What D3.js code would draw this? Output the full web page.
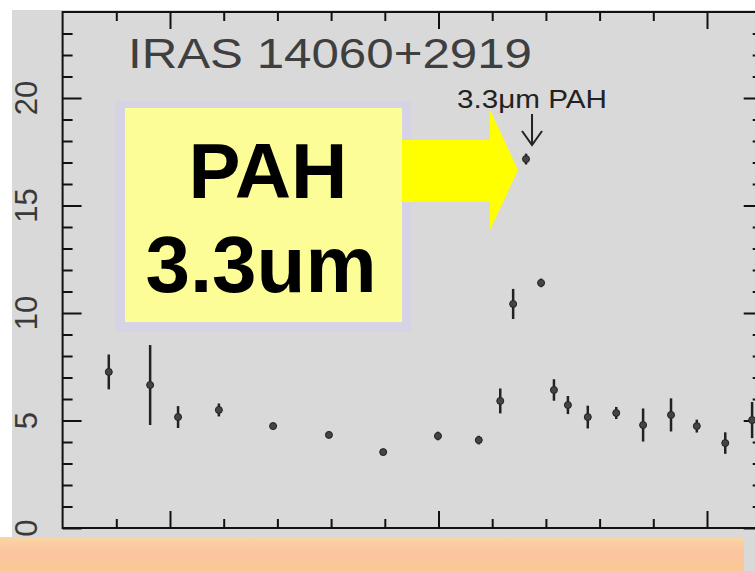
<!DOCTYPE html>
<html>
<head>
<meta charset="utf-8">
<script src="https://cdn.jsdelivr.net/npm/d3@7"></script>
<style>
  body { margin: 0; background: #fff; }
  svg { display: block; font-family: "Liberation Sans", Arial, sans-serif; }
  .tick text { display: none; }
  .domain { display: none; }
</style>
</head>
<body>
<svg></svg>
<script>
var wavelength = [2.886, 2.963, 3.015, 3.091, 3.192, 3.296, 3.397, 3.499, 3.575, 3.615, 3.639,
                  3.663, 3.691, 3.715, 3.741, 3.778, 3.831, 3.881, 3.933, 3.981, 4.034, 4.084];
var flux = [7.26, 6.65, 5.16, 5.49, 4.74, 4.33, 3.53, 4.28, 4.09, 5.91, 10.42,
            17.16, 11.40, 6.42, 5.72, 5.16, 5.35, 4.79, 5.26, 4.74, 3.95, 5.02];
var fluxErr = [0.81, 1.86, 0.51, 0.30, 0.15, 0.12, 0.12, 0.20, 0.20, 0.58, 0.70,
               0.25, 0.20, 0.50, 0.42, 0.53, 0.28, 0.77, 0.77, 0.30, 0.50, 0.84];

var yTickLabels = [0, 5, 10, 15, 20];
var xMajorTicks = [3.0, 3.5, 4.0];
var xMinorTicks = [2.9, 3.1, 3.2, 3.3, 3.4, 3.6, 3.7, 3.8, 3.9];
var title = "IRAS  14060+2919";
var lineLabel = "3.3\u03bcm PAH";
var lineWave = 3.663;
var boxText = ["PAH", "3.3um"];

var config = {
  w: 755,
  h: 571,
  left: 62.6,
  right: 760.7,
  top: 12,
  bottom: 528
};

var svg = d3.select("svg")
  .attr("width", config.w)
  .attr("height", config.h);

// backgrounds
svg.append("rect")
  .attr("x", 12).attr("y", 10)
  .attr("width", config.w - 12).attr("height", config.h - 10)
  .attr("fill", "#d9d9d9");

var x = d3.scaleLinear().domain([2.8, 4.1]).range([config.left, config.right]);
var y = d3.scaleLinear().domain([0, 24]).range([config.bottom, config.top]);

var g = svg.append("g").attr("id", "plot");

// axes: ticks point inwards on all four sides
function drawTicks(axis, tx, ty) {
  g.append("g")
    .attr("transform", "translate(" + tx + "," + ty + ")")
    .call(axis)
    .selectAll("line")
    .attr("stroke", "#111")
    .attr("stroke-width", 2);
}

drawTicks(d3.axisBottom(x).tickValues(xMajorTicks).tickSize(-17).tickSizeOuter(0), 0, config.bottom);
drawTicks(d3.axisBottom(x).tickValues(xMinorTicks).tickSize(-9).tickSizeOuter(0), 0, config.bottom);
drawTicks(d3.axisTop(x).tickValues(xMajorTicks).tickSize(-17).tickSizeOuter(0), 0, config.top);
drawTicks(d3.axisTop(x).tickValues(xMinorTicks).tickSize(-9).tickSizeOuter(0), 0, config.top);

var yMinor = d3.range(1, 24).filter(function(d) { return d % 5 != 0; });
drawTicks(d3.axisLeft(y).tickValues(yTickLabels).tickSize(-19).tickSizeOuter(0), config.left, 0);
drawTicks(d3.axisLeft(y).tickValues(yMinor).tickSize(-10).tickSizeOuter(0), config.left, 0);
drawTicks(d3.axisRight(y).tickValues(yTickLabels).tickSize(-17).tickSizeOuter(0), config.right, 0);
drawTicks(d3.axisRight(y).tickValues(yMinor).tickSize(-8).tickSizeOuter(0), config.right, 0);

// frame
g.append("rect")
  .attr("x", config.left).attr("y", config.top)
  .attr("width", config.right - config.left)
  .attr("height", config.bottom - config.top)
  .attr("fill", "none")
  .attr("stroke", "#111")
  .attr("stroke-width", 2);

// rotated y labels
svg.selectAll("text.ylab")
  .data(yTickLabels)
  .enter()
  .append("text")
    .attr("class", "ylab")
    .attr("transform", function(d) { return "translate(26," + y(d) + ") rotate(-90)"; })
    .attr("text-anchor", "middle")
    .attr("dominant-baseline", "central")
    .attr("font-size", 31)
    .attr("fill", "#3a3a3a")
    .text(function(d) { return d; });

// title
svg.append("text")
  .attr("x", 128).attr("y", 68)
  .attr("font-size", 43)
  .attr("fill", "#3f3f3f")
  .attr("textLength", 404)
  .attr("lengthAdjust", "spacingAndGlyphs")
  .text(title);

// data points with error bars
var pts = wavelength.map(function(d, i) {
  return {w: d, f: flux[i], e: fluxErr[i]};
});

var data = g.append("g").attr("id", "data");
data.selectAll("line.err")
  .data(pts)
  .enter()
  .append("line")
    .attr("class", "err")
    .attr("x1", function(d) { return x(d.w); })
    .attr("x2", function(d) { return x(d.w); })
    .attr("y1", function(d) { return y(d.f - d.e); })
    .attr("y2", function(d) { return y(d.f + d.e); })
    .attr("stroke", "#222")
    .attr("stroke-width", 2.5);

data.selectAll("circle")
  .data(pts)
  .enter()
  .append("circle")
    .attr("cx", function(d) { return x(d.w); })
    .attr("cy", function(d) { return y(d.f); })
    .attr("r", 3.5)
    .attr("fill", "#444")
    .attr("stroke", "#222")
    .attr("stroke-width", 1);

// line annotation
var lx = x(lineWave) + 6;
svg.append("text")
  .attr("x", lx).attr("y", 108)
  .attr("text-anchor", "middle")
  .attr("font-size", 26)
  .attr("fill", "#222")
  .attr("textLength", 150)
  .attr("lengthAdjust", "spacingAndGlyphs")
  .text(lineLabel);

svg.append("path")
  .attr("d", "M" + lx + ",114 L" + lx + ",145 M" + (lx - 10) + ",131 L" + lx + ",145 L" + (lx + 10) + ",131")
  .attr("fill", "none")
  .attr("stroke", "#222")
  .attr("stroke-width", 2);

// highlight box
svg.append("rect")
  .attr("x", 115).attr("y", 101)
  .attr("width", 296).attr("height", 231)
  .attr("fill", "#d5d3e4");
svg.append("rect")
  .attr("x", 125).attr("y", 108)
  .attr("width", 277).attr("height", 214)
  .attr("fill", "#fdfd98");

svg.append("text")
  .attr("x", 268).attr("y", 198)
  .attr("text-anchor", "middle")
  .attr("font-size", 78)
  .attr("font-weight", "bold")
  .attr("fill", "#000")
  .text(boxText[0]);
svg.append("text")
  .attr("x", 261).attr("y", 292)
  .attr("text-anchor", "middle")
  .attr("font-size", 80)
  .attr("font-weight", "bold")
  .attr("fill", "#000")
  .text(boxText[1]);

// yellow block arrow
svg.append("path")
  .attr("d", "M402,140 L490,140 L490,110 L518,170 L490,230 L490,202 L402,202 Z")
  .attr("fill", "#ffff00");

// orange band at the bottom
var grad = svg.append("defs").append("linearGradient")
  .attr("id", "band").attr("x1", 0).attr("y1", 0).attr("x2", 0).attr("y2", 1);
grad.append("stop").attr("offset", "0%").attr("stop-color", "#f9d6a4");
grad.append("stop").attr("offset", "45%").attr("stop-color", "#fbc4a0");
grad.append("stop").attr("offset", "100%").attr("stop-color", "#f9c994");

svg.append("rect")
  .attr("x", 0).attr("y", 537)
  .attr("width", 744).attr("height", 34)
  .attr("fill", "url(#band)");
</script>
</body>
</html>
